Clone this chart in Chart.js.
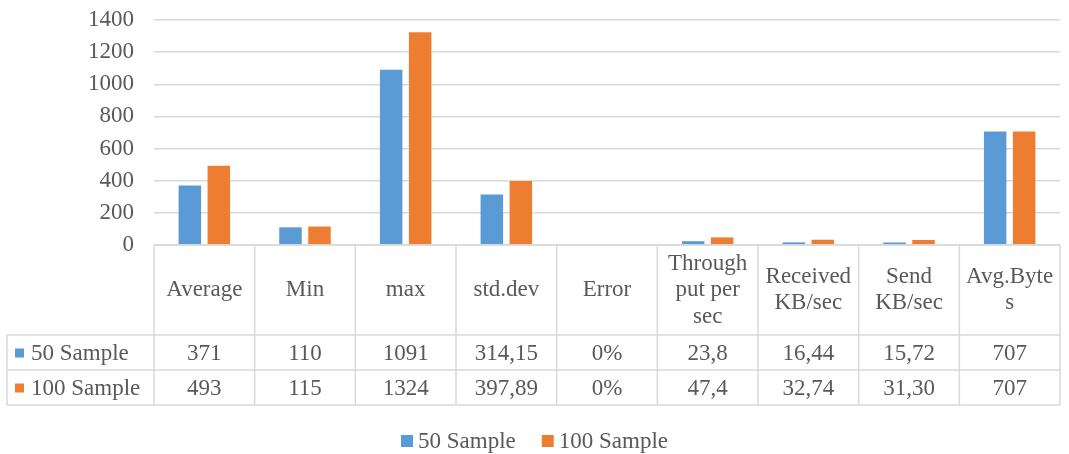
<!DOCTYPE html>
<html>
<head>
<meta charset="utf-8">
<script src="https://cdn.jsdelivr.net/npm/chart.js@4.4.0/dist/chart.umd.min.js"></script>
<style>
  body { margin: 0; background: #fff; }
  #wrap { width: 1069px; height: 454px; }
</style>
</head>
<body>
<div id="wrap"><canvas id="grafico" width="1069" height="454"></canvas></div>
<script>
// Dados do grafico
const categorias = [
    ['Average'], ['Min'], ['max'], ['std.dev'], ['Error'],
    ['Through', 'put per', 'sec'], ['Received', 'KB/sec'], ['Send', 'KB/sec'], ['Avg.Byte', 's']
];
const nomes_series = ['50 Sample', '100 Sample'];
const valores_50 = [371, 110, 1091, 314.15, 0, 23.8, 16.44, 15.72, 707];
const valores_100 = [493, 115, 1324, 397.89, 0, 47.4, 32.74, 31.30, 707];
const tabela_50 = ['371', '110', '1091', '314,15', '0%', '23,8', '16,44', '15,72', '707'];
const tabela_100 = ['493', '115', '1324', '397,89', '0%', '47,4', '32,74', '31,30', '707'];
const cores = ['#5b9bd5', '#ed7d31'];

const FONTE = '"Liberation Serif", "Times New Roman", serif';
const COR_TEXTO = '#595959';
const COR_LINHA = '#d9d9d9';

// desenha a tabela de dados e a legenda abaixo do grafico
const tabelaDados = {
    id: 'tabelaDados',
    afterDraw(chart) {
        const ctx = chart.ctx;
        const xs = chart.scales.x;
        const n = categorias.length;
        const catW = (xs.right - xs.left) / n;
        const top = chart.chartArea.bottom;
        const alturaCab = 90;
        const alturaLinha = 35;
        const esquerda = 7;
        const y1 = top + alturaCab;
        const y2 = y1 + alturaLinha;
        const y3 = y2 + alturaLinha;

        ctx.save();
        ctx.strokeStyle = COR_LINHA;
        ctx.lineWidth = 1.5;
        ctx.beginPath();
        ctx.moveTo(xs.left, top); ctx.lineTo(xs.right, top);
        [y1, y2, y3].forEach(y => { ctx.moveTo(esquerda, y); ctx.lineTo(xs.right, y); });
        for (let i = 0; i <= n; i++) {
            const x = xs.left + i * catW;
            ctx.moveTo(x, top); ctx.lineTo(x, y3);
        }
        ctx.moveTo(esquerda, y1); ctx.lineTo(esquerda, y3);
        ctx.stroke();

        ctx.fillStyle = COR_TEXTO;
        ctx.font = '23px ' + FONTE;
        ctx.textAlign = 'center';
        ctx.textBaseline = 'middle';
        const lh = 26.5;
        categorias.forEach((linhas, i) => {
            const cx = xs.getPixelForValue(i);
            const cy = top + alturaCab / 2;
            linhas.forEach((t, k) => {
                ctx.fillText(t, cx, cy + (k - (linhas.length - 1) / 2) * lh);
            });
            ctx.fillText(tabela_50[i], cx, y1 + alturaLinha / 2 + 1);
            ctx.fillText(tabela_100[i], cx, y2 + alturaLinha / 2 + 1);
        });

        // chaves da legenda na tabela
        ctx.textAlign = 'left';
        [y1, y2].forEach((y, k) => {
            ctx.fillStyle = cores[k];
            ctx.fillRect(15, y + alturaLinha / 2 - 4, 9, 9);
            ctx.fillStyle = COR_TEXTO;
            ctx.fillText(nomes_series[k], 31, y + alturaLinha / 2 + 1);
        });

        // legenda embaixo
        const caixa = 12, gap = 5, entre = 26, yLeg = 441;
        const larguras = nomes_series.map(s => ctx.measureText(s).width);
        const total = larguras.reduce((a, b) => a + b, 0) + nomes_series.length * (caixa + gap) + entre;
        let x = chart.width / 2 - total / 2;
        nomes_series.forEach((s, k) => {
            ctx.fillStyle = cores[k];
            ctx.fillRect(x, yLeg - 6, caixa, caixa);
            x += caixa + gap;
            ctx.fillStyle = COR_TEXTO;
            ctx.fillText(s, x, yLeg + 1);
            x += larguras[k] + entre;
        });
        ctx.restore();
    }
};

function renderiza_grafico() {
    const ctx = document.getElementById('grafico').getContext('2d');
    const grafico = new Chart(ctx, {
        type: 'bar',
        data: {
            labels: categorias,
            datasets: [{
                label: nomes_series[0],
                data: valores_50,
                backgroundColor: cores[0]
            }, {
                label: nomes_series[1],
                data: valores_100,
                backgroundColor: cores[1]
            }]
        },
        options: {
            responsive: false,
            animation: false,
            layout: { autoPadding: false, padding: { top: 20, right: 9, left: 0, bottom: 0 } },
            datasets: {
                bar: { categoryPercentage: 0.576, barPercentage: 0.776 }
            },
            plugins: {
                tooltip: { enabled: false },
                legend: { display: false }
            },
            scales: {
                x: {
                    grid: { display: false },
                    border: { display: false },
                    ticks: { display: false },
                    afterFit(scale) { scale.height = 209; }
                },
                y: {
                    min: 0,
                    max: 1400,
                    ticks: {
                        stepSize: 200,
                        autoSkip: false,
                        callback: v => String(v),
                        color: COR_TEXTO,
                        padding: 20,
                        font: { family: FONTE, size: 23 }
                    },
                    grid: { color: COR_LINHA, lineWidth: 1.5, drawTicks: false },
                    border: { display: false },
                    afterFit(scale) { scale.width = 154; scale.paddingTop = 0; scale.paddingBottom = 0; }
                }
            }
        },
        plugins: [tabelaDados]
    });
}

renderiza_grafico();
</script>
</body>
</html>
